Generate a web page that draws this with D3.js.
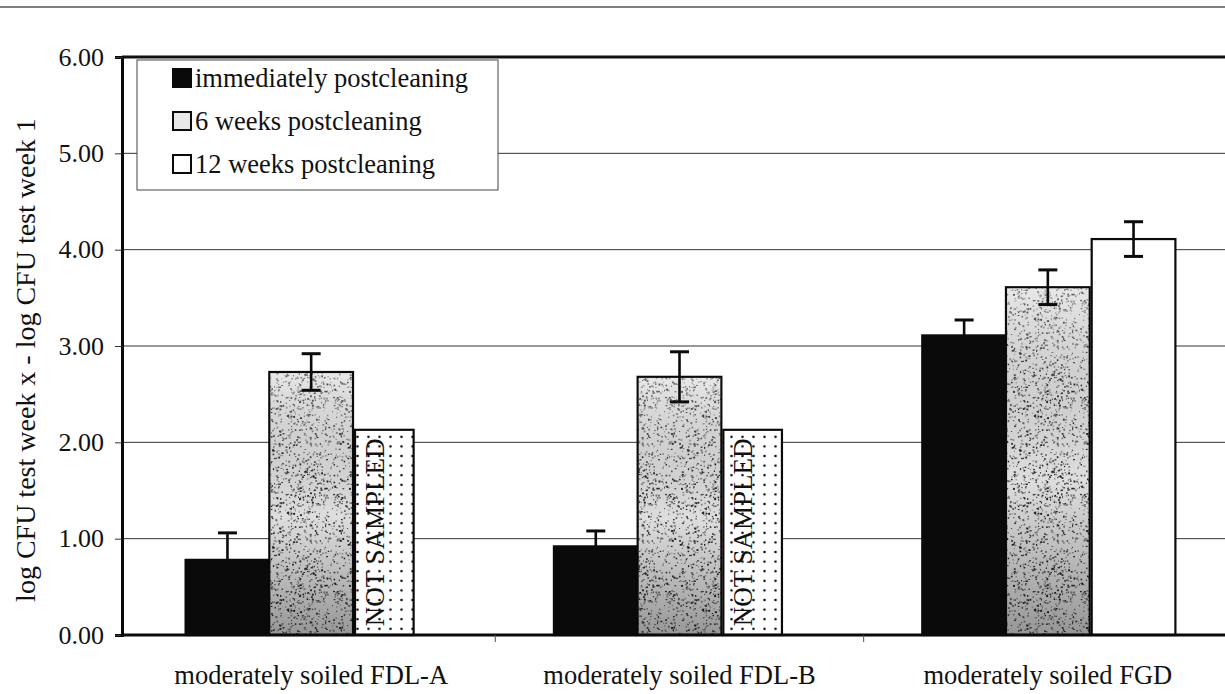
<!DOCTYPE html>
<html>
<head>
<meta charset="utf-8">
<script src="https://cdn.jsdelivr.net/npm/d3@7"></script>
<style>
  body { margin: 0; background: #fff; }
  text { font-family: "Liberation Serif", "Times New Roman", serif; fill: #111; }
</style>
</head>
<body>
<div id="chart"></div>
<script>
// data
var categories = ["moderately soiled FDL-A", "moderately soiled FDL-B", "moderately soiled FGD"];
var seriesNames = ["immediately postcleaning", "6 weeks postcleaning", "12 weeks postcleaning"];
var immediate = [0.78, 0.92, 3.11];
var immediateErr = [0.28, 0.16, 0.16];
var weeks6 = [2.73, 2.68, 3.61];
var weeks6Err = [0.19, 0.26, 0.18];
var weeks12 = [2.13, 2.13, 4.11];
var weeks12Err = [0, 0, 0.18];
var notSampled12 = [true, true, false];
var yTicks = [0, 1, 2, 3, 4, 5, 6];
var yTitle = "log CFU test week x - log CFU test week 1";

var svgWidth = 1225;
var svgHeight = 694;
var plot = {left: 122, top: 57, bottom: 635, right: 1232};

var svg = d3.select("#chart")
  .append("svg")
  .attr("width", svgWidth)
  .attr("height", svgHeight);

svg.append("rect").attr("width", svgWidth).attr("height", svgHeight).attr("fill", "#fff");

// flatten into rows
var values = [immediate, weeks6, weeks12];
var errs = [immediateErr, weeks6Err, weeks12Err];
var rows = [];
seriesNames.forEach(function(s, j) {
  categories.forEach(function(c, i) {
    rows.push({cat: c, series: s, j: j, value: values[j][i], err: errs[j][i], ns: j === 2 && notSampled12[i]});
  });
});

// scales
var x = d3.scaleBand().domain(categories).range([plot.left + 5, plot.right]).padding(0);
var xSub = d3.scaleBand().domain(seriesNames).range([0, x.bandwidth()]).paddingInner(0).paddingOuter(0.7);
var y = d3.scaleLinear().domain([0, 6]).range([plot.bottom, plot.top]);

// patterns
var defs = svg.append("defs");
var tileW = 83, tileH = 97;
var stip = defs.append("pattern")
  .attr("id", "stipple")
  .attr("patternUnits", "userSpaceOnUse")
  .attr("width", tileW).attr("height", tileH);
stip.append("rect").attr("width", tileW).attr("height", tileH).attr("fill", "#dedede");
// speckle texture (deterministic)
var seed = 11;
function rnd() { seed = (seed * 16807) % 2147483647; return seed / 2147483647; }
for (var k = 0; k < 650; k++) {
  stip.append("rect")
    .attr("x", (rnd() * tileW).toFixed(1))
    .attr("y", (rnd() * tileH).toFixed(1))
    .attr("width", (0.8 + rnd() * 1.2).toFixed(1))
    .attr("height", (0.8 + rnd() * 1.2).toFixed(1))
    .attr("fill", rnd() < 0.5 ? "#222" : "#777");
}
var grad = defs.append("linearGradient").attr("id", "shade").attr("x1", 0).attr("x2", 0).attr("y1", 0).attr("y2", 1);
grad.append("stop").attr("offset", "0%").attr("stop-color", "#fff").attr("stop-opacity", 0.3);
grad.append("stop").attr("offset", "55%").attr("stop-color", "#000").attr("stop-opacity", 0.0);
grad.append("stop").attr("offset", "100%").attr("stop-color", "#000").attr("stop-opacity", 0.32);

var dots = defs.append("pattern")
  .attr("id", "dots")
  .attr("patternUnits", "userSpaceOnUse")
  .attr("width", 11).attr("height", 9.6);
dots.append("rect").attr("width", 11).attr("height", 9.6).attr("fill", "#fff");
dots.append("circle").attr("cx", 5.5).attr("cy", 4.8).attr("r", 1.3).attr("fill", "#111");

// page rule at the very top of the scan
svg.append("line")
  .attr("x1", 0).attr("x2", svgWidth).attr("y1", 7).attr("y2", 7)
  .attr("stroke", "#555").attr("stroke-width", 1.5);

// gridlines
svg.append("g")
  .selectAll("line")
  .data(yTicks.filter(function(d) { return d > 0 && d < 6; }))
  .enter()
  .append("line")
  .attr("x1", plot.left).attr("x2", svgWidth)
  .attr("y1", d => y(d)).attr("y2", d => y(d))
  .attr("stroke", "#333").attr("stroke-width", 1);

// top border of plot
svg.append("line")
  .attr("x1", plot.left).attr("x2", svgWidth)
  .attr("y1", plot.top).attr("y2", plot.top)
  .attr("stroke", "#111").attr("stroke-width", 3);

// bars
function fillFor(d) {
  if (d.ns) return "url(#dots)";
  if (d.j === 0) return "#0a0a0a";
  if (d.j === 1) return "url(#stipple)";
  return "#fff";
}
function barW(d) { return d.ns ? xSub.bandwidth() * 0.7 : xSub.bandwidth(); }
function barX(d) { return x(d.cat) + xSub(d.series) + (d.j === 2 ? 2 : 0); }

var barGroup = svg.append("g").attr("class", "bars");
barGroup.selectAll("rect.bar")
  .data(rows)
  .enter()
  .append("rect")
  .attr("class", "bar")
  .attr("x", barX)
  .attr("y", d => y(d.value))
  .attr("width", barW)
  .attr("height", d => y(0) - y(d.value))
  .attr("fill", fillFor)
  .attr("stroke", "#0a0a0a")
  .attr("stroke-width", 2.2);

// shading on the stippled bars
barGroup.selectAll("rect.shade")
  .data(rows.filter(d => d.j === 1))
  .enter()
  .append("rect")
  .attr("class", "shade")
  .attr("x", d => barX(d) + 1)
  .attr("y", d => y(d.value) + 1)
  .attr("width", d => barW(d) - 2)
  .attr("height", d => y(0) - y(d.value) - 2)
  .attr("fill", "url(#shade)");

// NOT SAMPLED labels
barGroup.selectAll("text.ns")
  .data(rows.filter(d => d.ns))
  .enter()
  .append("text")
  .attr("class", "ns")
  .attr("transform", d => `translate(${barX(d) + 29}, ${(y(d.value) + y(0)) / 2}) rotate(-90)`)
  .attr("text-anchor", "middle")
  .attr("font-size", "27px")
  .text("NOT SAMPLED");

// error bars
var errRows = rows.filter(d => d.err > 0);
var eb = svg.append("g").attr("class", "errorbars")
  .selectAll("g")
  .data(errRows)
  .enter()
  .append("g")
  .attr("transform", d => `translate(${barX(d) + barW(d) / 2}, 0)`);
eb.append("line")
  .attr("y1", d => y(d.value - d.err)).attr("y2", d => y(d.value + d.err))
  .attr("stroke", "#0a0a0a").attr("stroke-width", 2.6);
eb.append("line")
  .attr("x1", -9.5).attr("x2", 9.5)
  .attr("y1", d => y(d.value + d.err)).attr("y2", d => y(d.value + d.err))
  .attr("stroke", "#0a0a0a").attr("stroke-width", 3);
eb.append("line")
  .attr("x1", -9.5).attr("x2", 9.5)
  .attr("y1", d => y(d.value - d.err)).attr("y2", d => y(d.value - d.err))
  .attr("stroke", "#0a0a0a").attr("stroke-width", 3);

// y axis
var leftAxis = d3.axisLeft(y).tickValues(yTicks).tickFormat(d3.format(".2f")).tickSize(7).tickPadding(11);
var yAxisG = svg.append("g")
  .attr("transform", `translate(${plot.left}, 0)`)
  .call(leftAxis);
yAxisG.select(".domain").attr("stroke", "#0a0a0a").attr("stroke-width", 3);
yAxisG.selectAll(".tick line").attr("stroke", "#333").attr("stroke-width", 1);
yAxisG.selectAll(".tick text")
  .attr("font-size", "26px")
  .attr("font-family", "'Liberation Serif', serif")
  .attr("fill", "#111");

// x axis
var bottomAxis = d3.axisBottom(x).tickSize(0).tickPadding(30);
var xAxisG = svg.append("g")
  .attr("transform", `translate(0, ${plot.bottom})`)
  .call(bottomAxis);
xAxisG.select(".domain").remove();
xAxisG.selectAll(".tick text")
  .attr("font-size", "26.5px")
  .attr("font-family", "'Liberation Serif', serif")
  .attr("fill", "#111");
svg.append("line")
  .attr("x1", plot.left - 1).attr("x2", svgWidth)
  .attr("y1", plot.bottom).attr("y2", plot.bottom)
  .attr("stroke", "#0a0a0a").attr("stroke-width", 3);
// category boundary ticks
svg.append("g")
  .selectAll("line")
  .data(categories.slice(1))
  .enter()
  .append("line")
  .attr("x1", d => x(d)).attr("x2", d => x(d))
  .attr("y1", plot.bottom).attr("y2", plot.bottom + 7)
  .attr("stroke", "#555").attr("stroke-width", 1);

// y axis title
svg.append("text")
  .attr("transform", `translate(35, ${(plot.top + plot.bottom) / 2 + 14}) rotate(-90)`)
  .attr("text-anchor", "middle")
  .attr("font-size", "28px")
  .text(yTitle);

// legend
var legend = svg.append("g").attr("class", "legend");
legend.append("rect")
  .attr("x", 137).attr("y", 60)
  .attr("width", 361).attr("height", 130)
  .attr("fill", "#fff")
  .attr("stroke", "#444").attr("stroke-width", 1);
var legendSwatch = ["#0a0a0a", "#e8e8e8", "#fff"];
var items = legend.selectAll("g.item")
  .data(seriesNames)
  .enter()
  .append("g")
  .attr("class", "item")
  .attr("transform", (d, i) => `translate(173, ${78 + i * 43})`);
items.append("rect")
  .attr("x", 0).attr("y", -9)
  .attr("width", 18).attr("height", 18)
  .attr("fill", (d, i) => legendSwatch[i])
  .attr("stroke", "#0a0a0a").attr("stroke-width", 2);
items.append("text")
  .attr("x", 22).attr("y", 9)
  .attr("font-size", "26.5px")
  .text(d => d);
</script>
</body>
</html>
